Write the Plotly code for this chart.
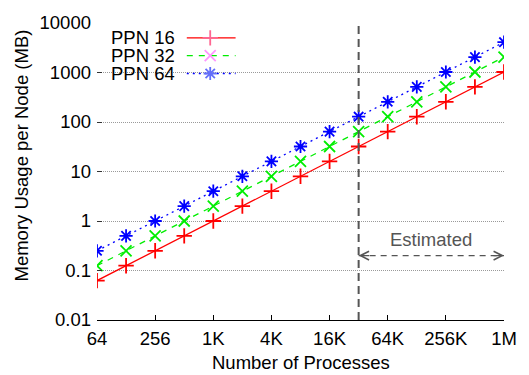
import numpy as np
import plotly.graph_objects as go

# ---------------- data ----------------
processes = [64, 128, 256, 512, 1024, 2048, 4096, 8192, 16384, 32768,
             65536, 131072, 262144, 524288, 1048576]
ppn16 = [0.0625, 0.125, 0.25, 0.5, 1, 2, 4, 8, 16, 32, 64, 128, 256, 512, 1024]
ppn32 = [0.125, 0.25, 0.5, 1, 2, 4, 8, 16, 32, 64, 128, 256, 512, 1024, 2048]
ppn64 = [0.25, 0.5, 1, 2, 4, 8, 16, 32, 64, 128, 256, 512, 1024, 2048, 4096]
series_names = ["PPN 16", "PPN 32", "PPN 64"]

x_tickvals = [64, 256, 1024, 4096, 16384, 65536, 262144, 1048576]
x_ticktext = ["64", "256", "1K", "4K", "16K", "64K", "256K", "1M"]
y_tickvals = [0.01, 0.1, 1, 10, 100, 1000, 10000]
y_ticktext = ["0.01", "0.1", "1", "10", "100", "1000", "10000"]

estimate_start = 32768
estimate_end = 1048576
arrow_level = 0.2
estimate_label = "Estimated"

# ---------------- styles ----------------
FONT = "Liberation Sans, Arial, sans-serif"
FS = 18.5
colors = ["#ff0000", "#00ee00", "#0000ff"]
dashes = ["solid", "6px,6px", "2px,4px"]
symbols = ["cross-thin-open", "x-thin-open", "asterisk-open"]

fig = go.Figure()
all_series = [ppn16, ppn32, ppn64]

for name, vals, c, d, s in zip(series_names, all_series, colors, dashes, symbols):
    fig.add_trace(go.Scatter(
        x=processes, y=vals, mode="lines+markers", name=name,
        line=dict(color=c, width=1.3, dash=d),
        marker=dict(symbol=s, size=11, line=dict(color=c, width=1.8)),
        showlegend=False, hoverinfo="skip"))

# vertical divider at the start of estimated region
fig.add_trace(go.Scatter(
    x=[estimate_start, estimate_start], y=[y_tickvals[0], y_tickvals[-1]],
    mode="lines", line=dict(color="#555555", width=2, dash="8px,5px"),
    showlegend=False, hoverinfo="skip"))

# dashed arrow shaft
fig.add_trace(go.Scatter(
    x=[estimate_start, estimate_end], y=[arrow_level, arrow_level],
    mode="lines", line=dict(color="#555555", width=1.3, dash="6px,5px"),
    showlegend=False, hoverinfo="skip"))

# arrow heads
for xv, off in [(estimate_end, -12), (estimate_start, 12)]:
    fig.add_annotation(x=np.log10(xv), y=np.log10(arrow_level), xref="x", yref="y",
                       text="", showarrow=True, ax=off, ay=0,
                       arrowhead=5, arrowsize=1.4, arrowwidth=1.2,
                       arrowcolor="#555555", standoff=0)

fig.add_annotation(x=np.log10(np.sqrt(estimate_start * estimate_end)),
                   y=np.log10(arrow_level), xref="x", yref="y",
                   text=estimate_label, showarrow=False, yshift=16,
                   font=dict(family=FONT, size=FS, color="#555555"))

# custom gnuplot-like legend (text left, sample right)
L, R, T, B = 97, 514, 20, 320
W, H = R - L, B - T
fig.add_shape(type="rect", xref="paper", yref="paper",
              x0=0.005, x1=(246 - L) / W, y0=(B - 80) / H, y1=(B - 26) / H,
              fillcolor="white", line=dict(width=0), layer="between")
rows_px = [35, 53, 71]
for name, c, d, s, rp in zip(series_names, colors, dashes, symbols, rows_px):
    yy = (B - rp) / H
    fig.add_annotation(x=(178 - L) / W, y=yy, xref="paper", yref="paper",
                       text=name, showarrow=False, xanchor="right", yanchor="middle",
                       height=17, borderpad=0, valign="middle",
                       font=dict(family=FONT, size=FS, color="black"))
    fig.add_trace(go.Scatter(
        x=[(189 - L) / W, (239 - L) / W], y=[yy, yy], xaxis="x2", yaxis="y2",
        mode="lines", line=dict(color=c, width=1.3, dash=d),
        showlegend=False, hoverinfo="skip"))
    fig.add_trace(go.Scatter(
        x=[(213 - L) / W], y=[yy], xaxis="x2", yaxis="y2",
        mode="markers", marker=dict(symbol=s, size=11, line=dict(color=c, width=1.8)),
        showlegend=False, hoverinfo="skip"))

# axis titles
fig.add_annotation(x=0.5, y=(B - 363) / H, xref="paper", yref="paper",
                   text="Number of Processes", showarrow=False,
                   xanchor="center", yanchor="middle",
                   font=dict(family=FONT, size=FS, color="black"))
fig.add_annotation(x=(20 - L) / W, y=(B - 154) / H, xref="paper", yref="paper",
                   text="Memory Usage per Node (MB)", showarrow=False, textangle=-90,
                   xanchor="center", yanchor="middle",
                   font=dict(family=FONT, size=FS, color="black"))

fig.update_layout(
    width=529, height=375,
    margin=dict(l=L, r=529 - R, t=T, b=375 - B, pad=0),
    paper_bgcolor="white", plot_bgcolor="white",
    font=dict(family=FONT, size=FS, color="black"),
    xaxis=dict(type="log", range=[np.log10(processes[0]), np.log10(processes[-1])],
               tickvals=x_tickvals, ticktext=x_ticktext,
               ticks="inside", ticklen=5, tickcolor="black", tickwidth=1,
               showline=True, linecolor="black", linewidth=1.2,
               showgrid=False, zeroline=False, ticklabelstandoff=2,
               tickfont=dict(family=FONT, size=FS, color="black")),
    yaxis=dict(type="log", range=[np.log10(y_tickvals[0]), np.log10(y_tickvals[-1])],
               tickvals=y_tickvals, ticktext=y_ticktext,
               ticks="inside", ticklen=5, tickcolor="#333333", tickwidth=1,
               showline=False, showgrid=True, gridcolor="#9a9a9a",
               griddash="1px,1px", gridwidth=1, zeroline=False,
               ticklabelstandoff=5,
               tickfont=dict(family=FONT, size=FS, color="black")),
    xaxis2=dict(overlaying="x", range=[0, 1], visible=False, fixedrange=True),
    yaxis2=dict(overlaying="y", range=[0, 1], visible=False, fixedrange=True),
)

fig.write_html("out.html")
